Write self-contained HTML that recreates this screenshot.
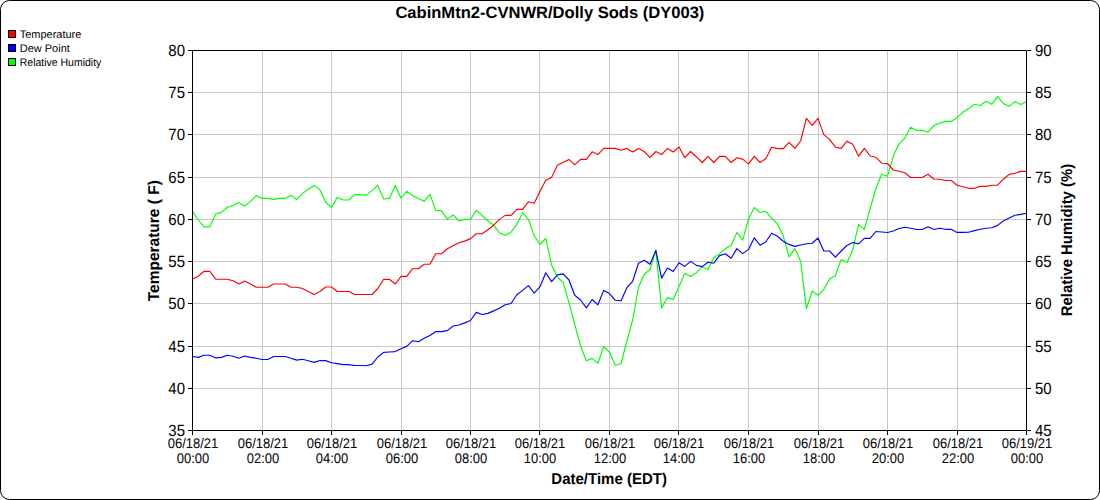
<!DOCTYPE html><html><head><meta charset="utf-8"><style>
html,body{margin:0;padding:0;background:#fff;width:1100px;height:500px;overflow:hidden}
svg{display:block;font-family:"Liberation Sans",sans-serif;text-rendering:geometricPrecision}
</style></head><body>
<svg width="1100" height="500" viewBox="0 0 1100 500">
<rect x="0.5" y="0.5" width="1099" height="499" rx="9" ry="9" fill="#fff" stroke="#000" stroke-width="1"/>
<text x="549.9" y="18" text-anchor="middle" font-size="16.5" font-weight="bold" textLength="309" lengthAdjust="spacingAndGlyphs">CabinMtn2-CVNWR/Dolly Sods (DY003)</text>
<rect x="8.5" y="30.5" width="7" height="7" fill="#ff0000" stroke="#000" stroke-width="1"/>
<text x="19.8" y="38" font-size="11" textLength="61.5" lengthAdjust="spacingAndGlyphs">Temperature</text>
<rect x="8.5" y="44.5" width="7" height="7" fill="#0000ff" stroke="#000" stroke-width="1"/>
<text x="19.8" y="52" font-size="11" textLength="50" lengthAdjust="spacingAndGlyphs">Dew Point</text>
<rect x="8.5" y="58.5" width="7" height="7" fill="#00ff00" stroke="#000" stroke-width="1"/>
<text x="19.8" y="66" font-size="11" textLength="81.5" lengthAdjust="spacingAndGlyphs">Relative Humidity</text>
<path d="M262.5 50V430M331.5 50V430M401.5 50V430M470.5 50V430M539.5 50V430M609.5 50V430M678.5 50V430M748.5 50V430M818.5 50V430M887.5 50V430M957.5 50V430M192 388.5H1026M192 346.5H1026M192 303.5H1026M192 261.5H1026M192 219.5H1026M192 177.5H1026M192 134.5H1026M192 92.5H1026" stroke="#c8c8c8" stroke-width="1" fill="none"/>
<path d="M192.50 211.60 L198.29 220.00 L204.08 226.80 L209.88 226.80 L215.67 214.00 L221.46 212.40 L227.25 207.20 L233.04 205.60 L238.83 202.40 L244.63 206.00 L250.42 201.60 L256.21 195.60 L262.00 198.40 L267.79 198.40 L273.58 199.40 L279.38 198.40 L285.17 198.40 L290.96 195.30 L296.75 199.60 L302.54 193.40 L308.33 189.20 L314.13 185.40 L319.92 189.80 L325.71 202.20 L331.50 207.40 L337.29 197.40 L343.08 200.00 L348.88 200.00 L354.67 194.60 L360.46 194.60 L366.25 195.40 L372.04 190.40 L377.83 185.40 L383.63 199.00 L389.42 198.40 L395.21 185.40 L401.00 198.00 L406.79 191.20 L412.58 195.60 L418.38 198.40 L424.17 201.40 L429.96 194.40 L435.75 210.60 L441.54 210.60 L447.33 219.40 L453.13 215.00 L458.92 221.00 L464.71 219.40 L470.50 219.40 L476.29 210.20 L482.08 215.60 L487.88 220.80 L493.67 225.20 L499.46 232.90 L505.25 235.30 L511.04 232.20 L516.83 224.50 L522.63 212.60 L528.42 219.30 L534.21 235.70 L540.00 244.50 L545.79 238.50 L551.58 265.00 L557.38 277.00 L563.17 282.40 L568.96 302.60 L574.75 324.30 L580.54 346.00 L586.33 360.70 L592.13 358.40 L597.92 363.20 L603.71 346.50 L609.50 352.30 L615.29 365.20 L621.08 363.50 L626.88 341.00 L632.67 320.00 L638.46 287.50 L644.25 274.30 L650.04 269.50 L655.83 250.40 L661.63 308.00 L667.42 297.60 L673.21 299.50 L679.00 286.40 L684.79 273.60 L690.58 276.60 L696.38 272.80 L702.17 266.80 L707.96 269.80 L713.75 257.80 L719.54 253.60 L725.33 248.80 L731.13 245.20 L736.92 232.60 L742.71 240.20 L748.50 219.00 L754.29 207.50 L760.08 212.50 L765.88 211.30 L771.67 218.20 L777.46 223.60 L783.25 236.00 L789.04 257.00 L794.83 248.60 L800.63 261.20 L806.42 308.60 L812.21 291.00 L818.00 295.30 L823.79 289.30 L829.58 279.00 L835.38 275.80 L841.17 259.40 L846.96 262.40 L852.75 249.80 L858.54 224.40 L864.33 229.40 L870.13 208.70 L875.92 188.50 L881.71 174.20 L887.50 176.30 L893.29 155.80 L899.08 143.80 L904.88 137.80 L910.67 127.20 L916.46 130.40 L922.25 130.40 L928.04 132.20 L933.83 125.60 L939.63 123.20 L945.42 121.40 L951.21 121.40 L957.00 117.70 L962.79 112.30 L968.58 108.60 L974.38 104.30 L980.17 105.50 L985.96 101.20 L991.75 104.30 L997.54 96.70 L1003.33 103.40 L1009.13 106.30 L1014.92 101.60 L1020.71 104.50 L1026.50 101.40" stroke="#00ff00" stroke-width="1.15" fill="none" stroke-linejoin="round"/>
<path d="M192.50 356.50 L198.29 357.40 L204.08 355.20 L209.88 355.20 L215.67 357.90 L221.46 357.40 L227.25 355.20 L233.04 356.20 L238.83 358.20 L244.63 356.00 L250.42 357.40 L256.21 358.20 L262.00 359.50 L267.79 359.50 L273.58 356.50 L279.38 356.50 L285.17 356.50 L290.96 358.20 L296.75 360.10 L302.54 359.30 L308.33 360.80 L314.13 362.40 L319.92 360.50 L325.71 360.60 L331.50 362.70 L337.29 363.60 L343.08 364.60 L348.88 364.60 L354.67 365.50 L360.46 365.50 L366.25 365.70 L372.04 364.10 L377.83 357.00 L383.63 352.40 L389.42 352.00 L395.21 351.60 L401.00 348.80 L406.79 346.40 L412.58 340.70 L418.38 341.80 L424.17 338.30 L429.96 335.50 L435.75 331.60 L441.54 331.60 L447.33 330.60 L453.13 326.00 L458.92 325.00 L464.71 322.90 L470.50 320.50 L476.29 312.40 L482.08 314.50 L487.88 313.40 L493.67 310.90 L499.46 308.30 L505.25 304.80 L511.04 303.50 L516.83 294.70 L522.63 290.40 L528.42 285.60 L534.21 293.10 L540.00 286.70 L545.79 272.80 L551.58 281.60 L557.38 274.90 L563.17 273.90 L568.96 280.00 L574.75 295.20 L580.54 300.00 L586.33 307.80 L592.13 299.50 L597.92 304.80 L603.71 290.40 L609.50 293.60 L615.29 300.30 L621.08 300.80 L626.88 287.70 L632.67 281.30 L638.46 263.20 L644.25 260.30 L650.04 264.30 L655.83 250.40 L661.63 278.10 L667.42 268.00 L673.21 271.50 L679.00 262.70 L684.79 266.40 L690.58 261.40 L696.38 265.40 L702.17 266.60 L707.96 262.20 L713.75 263.20 L719.54 255.60 L725.33 253.80 L731.13 258.20 L736.92 248.60 L742.71 253.60 L748.50 249.40 L754.29 237.80 L760.08 245.20 L765.88 241.80 L771.67 233.20 L777.46 236.20 L783.25 241.20 L789.04 244.40 L794.83 246.40 L800.63 245.00 L806.42 243.80 L812.21 243.20 L818.00 238.00 L823.79 251.00 L829.58 251.00 L835.38 257.20 L841.17 251.00 L846.96 245.40 L852.75 242.60 L858.54 243.80 L864.33 238.40 L870.13 238.40 L875.92 231.50 L881.71 232.00 L887.50 232.50 L893.29 231.00 L899.08 228.50 L904.88 227.20 L910.67 228.20 L916.46 229.50 L922.25 229.50 L928.04 226.80 L933.83 229.50 L939.63 228.30 L945.42 229.30 L951.21 229.30 L957.00 232.40 L962.79 232.40 L968.58 232.30 L974.38 230.60 L980.17 229.20 L985.96 228.20 L991.75 227.80 L997.54 225.40 L1003.33 221.00 L1009.13 218.00 L1014.92 215.20 L1020.71 214.40 L1026.50 213.20" stroke="#0000ff" stroke-width="1.15" fill="none" stroke-linejoin="round"/>
<path d="M192.50 279.00 L198.29 276.20 L204.08 271.30 L209.88 271.30 L215.67 279.20 L221.46 279.20 L227.25 279.20 L233.04 280.80 L238.83 284.00 L244.63 281.00 L250.42 284.00 L256.21 287.20 L262.00 287.20 L267.79 287.20 L273.58 284.00 L279.38 284.00 L285.17 284.00 L290.96 287.20 L296.75 287.20 L302.54 288.50 L308.33 291.50 L314.13 294.50 L319.92 291.50 L325.71 287.00 L331.50 287.00 L337.29 291.50 L343.08 291.50 L348.88 291.50 L354.67 294.50 L360.46 294.50 L366.25 294.50 L372.04 294.50 L377.83 288.50 L383.63 279.30 L389.42 279.30 L395.21 284.00 L401.00 276.40 L406.79 276.40 L412.58 268.70 L418.38 268.70 L424.17 264.20 L429.96 264.20 L435.75 253.70 L441.54 253.70 L447.33 248.80 L453.13 245.70 L458.92 242.80 L464.71 241.10 L470.50 238.60 L476.29 233.70 L482.08 233.70 L487.88 229.80 L493.67 225.20 L499.46 219.40 L505.25 215.40 L511.04 215.40 L516.83 209.40 L522.63 209.40 L528.42 201.80 L534.21 203.30 L540.00 191.30 L545.79 180.30 L551.58 177.40 L557.38 165.30 L563.17 162.20 L568.96 159.40 L574.75 164.90 L580.54 159.40 L586.33 159.40 L592.13 151.80 L597.92 154.60 L603.71 148.40 L609.50 148.40 L615.29 148.40 L621.08 150.30 L626.88 148.40 L632.67 152.00 L638.46 148.40 L644.25 151.50 L650.04 157.70 L655.83 151.50 L661.63 154.60 L667.42 148.40 L673.21 152.00 L679.00 147.00 L684.79 157.70 L690.58 151.50 L696.38 156.70 L702.17 162.50 L707.96 156.30 L713.75 162.50 L719.54 156.30 L725.33 156.30 L731.13 162.50 L736.92 157.70 L742.71 159.10 L748.50 163.90 L754.29 156.30 L760.08 162.50 L765.88 158.60 L771.67 147.20 L777.46 148.60 L783.25 148.60 L789.04 142.40 L794.83 148.40 L800.63 141.00 L806.42 118.40 L812.21 125.40 L818.00 118.40 L823.79 134.60 L829.58 139.40 L835.38 147.20 L841.17 148.40 L846.96 141.20 L852.75 144.20 L858.54 156.20 L864.33 148.40 L870.13 156.00 L875.92 157.30 L881.71 163.20 L887.50 163.50 L893.29 170.00 L899.08 171.20 L904.88 172.80 L910.67 177.50 L916.46 177.50 L922.25 177.50 L928.04 174.30 L933.83 179.00 L939.63 179.20 L945.42 180.50 L951.21 180.50 L957.00 185.20 L962.79 186.70 L968.58 188.30 L974.38 188.30 L980.17 186.40 L985.96 186.40 L991.75 185.20 L997.54 185.20 L1003.33 179.20 L1009.13 174.40 L1014.92 173.20 L1020.71 171.40 L1026.50 171.40" stroke="#ff0000" stroke-width="1.15" fill="none" stroke-linejoin="round"/>
<path d="M192.5 50V430.5H1026.5V50.5H192" stroke="#000" stroke-width="1" fill="none"/>
<path d="M188 430.5H192M1027 430.5H1031M188 388.5H192M1027 388.5H1031M188 346.5H192M1027 346.5H1031M188 303.5H192M1027 303.5H1031M188 261.5H192M1027 261.5H1031M188 219.5H192M1027 219.5H1031M188 177.5H192M1027 177.5H1031M188 134.5H192M1027 134.5H1031M188 92.5H192M1027 92.5H1031M188 50.5H192M1027 50.5H1031M192.5 431V435M262.5 431V435M331.5 431V435M401.5 431V435M470.5 431V435M539.5 431V435M609.5 431V435M678.5 431V435M748.5 431V435M818.5 431V435M887.5 431V435M957.5 431V435M1026.5 431V435" stroke="#000" stroke-width="1" fill="none"/>
<text transform="translate(185 435.5) scale(1 1.08)" text-anchor="end" font-size="15">35</text>
<text transform="translate(1035 435.5) scale(1 1.08)" font-size="15">45</text>
<text transform="translate(185 393.5) scale(1 1.08)" text-anchor="end" font-size="15">40</text>
<text transform="translate(1035 393.5) scale(1 1.08)" font-size="15">50</text>
<text transform="translate(185 351.5) scale(1 1.08)" text-anchor="end" font-size="15">45</text>
<text transform="translate(1035 351.5) scale(1 1.08)" font-size="15">55</text>
<text transform="translate(185 308.5) scale(1 1.08)" text-anchor="end" font-size="15">50</text>
<text transform="translate(1035 308.5) scale(1 1.08)" font-size="15">60</text>
<text transform="translate(185 266.5) scale(1 1.08)" text-anchor="end" font-size="15">55</text>
<text transform="translate(1035 266.5) scale(1 1.08)" font-size="15">65</text>
<text transform="translate(185 224.5) scale(1 1.08)" text-anchor="end" font-size="15">60</text>
<text transform="translate(1035 224.5) scale(1 1.08)" font-size="15">70</text>
<text transform="translate(185 182.5) scale(1 1.08)" text-anchor="end" font-size="15">65</text>
<text transform="translate(1035 182.5) scale(1 1.08)" font-size="15">75</text>
<text transform="translate(185 139.5) scale(1 1.08)" text-anchor="end" font-size="15">70</text>
<text transform="translate(1035 139.5) scale(1 1.08)" font-size="15">80</text>
<text transform="translate(185 97.5) scale(1 1.08)" text-anchor="end" font-size="15">75</text>
<text transform="translate(1035 97.5) scale(1 1.08)" font-size="15">85</text>
<text transform="translate(185 55.5) scale(1 1.08)" text-anchor="end" font-size="15">80</text>
<text transform="translate(1035 55.5) scale(1 1.08)" font-size="15">90</text>
<text transform="translate(193.0 447.5) scale(1 1.08)" text-anchor="middle" font-size="13">06/18/21</text>
<text transform="translate(193.0 463) scale(1 1.08)" text-anchor="middle" font-size="13">00:00</text>
<text transform="translate(263.0 447.5) scale(1 1.08)" text-anchor="middle" font-size="13">06/18/21</text>
<text transform="translate(263.0 463) scale(1 1.08)" text-anchor="middle" font-size="13">02:00</text>
<text transform="translate(332.0 447.5) scale(1 1.08)" text-anchor="middle" font-size="13">06/18/21</text>
<text transform="translate(332.0 463) scale(1 1.08)" text-anchor="middle" font-size="13">04:00</text>
<text transform="translate(402.0 447.5) scale(1 1.08)" text-anchor="middle" font-size="13">06/18/21</text>
<text transform="translate(402.0 463) scale(1 1.08)" text-anchor="middle" font-size="13">06:00</text>
<text transform="translate(471.0 447.5) scale(1 1.08)" text-anchor="middle" font-size="13">06/18/21</text>
<text transform="translate(471.0 463) scale(1 1.08)" text-anchor="middle" font-size="13">08:00</text>
<text transform="translate(540.0 447.5) scale(1 1.08)" text-anchor="middle" font-size="13">06/18/21</text>
<text transform="translate(540.0 463) scale(1 1.08)" text-anchor="middle" font-size="13">10:00</text>
<text transform="translate(610.0 447.5) scale(1 1.08)" text-anchor="middle" font-size="13">06/18/21</text>
<text transform="translate(610.0 463) scale(1 1.08)" text-anchor="middle" font-size="13">12:00</text>
<text transform="translate(679.0 447.5) scale(1 1.08)" text-anchor="middle" font-size="13">06/18/21</text>
<text transform="translate(679.0 463) scale(1 1.08)" text-anchor="middle" font-size="13">14:00</text>
<text transform="translate(749.0 447.5) scale(1 1.08)" text-anchor="middle" font-size="13">06/18/21</text>
<text transform="translate(749.0 463) scale(1 1.08)" text-anchor="middle" font-size="13">16:00</text>
<text transform="translate(819.0 447.5) scale(1 1.08)" text-anchor="middle" font-size="13">06/18/21</text>
<text transform="translate(819.0 463) scale(1 1.08)" text-anchor="middle" font-size="13">18:00</text>
<text transform="translate(888.0 447.5) scale(1 1.08)" text-anchor="middle" font-size="13">06/18/21</text>
<text transform="translate(888.0 463) scale(1 1.08)" text-anchor="middle" font-size="13">20:00</text>
<text transform="translate(958.0 447.5) scale(1 1.08)" text-anchor="middle" font-size="13">06/18/21</text>
<text transform="translate(958.0 463) scale(1 1.08)" text-anchor="middle" font-size="13">22:00</text>
<text transform="translate(1027.0 447.5) scale(1 1.08)" text-anchor="middle" font-size="13">06/19/21</text>
<text transform="translate(1027.0 463) scale(1 1.08)" text-anchor="middle" font-size="13">00:00</text>
<text transform="translate(609.1 484) scale(1 1.04)" text-anchor="middle" font-size="15" font-weight="bold">Date/Time (EDT)</text>
<text transform="translate(158.9 240.7) rotate(-90) scale(1 1.05)" text-anchor="middle" font-size="15" font-weight="bold" textLength="121" lengthAdjust="spacingAndGlyphs">Temperature ( F)</text>
<text transform="translate(1072 240) rotate(-90) scale(1 1.03)" text-anchor="middle" font-size="15" font-weight="bold" textLength="152.5" lengthAdjust="spacingAndGlyphs">Relative Humidity (%)</text>
</svg></body></html>
